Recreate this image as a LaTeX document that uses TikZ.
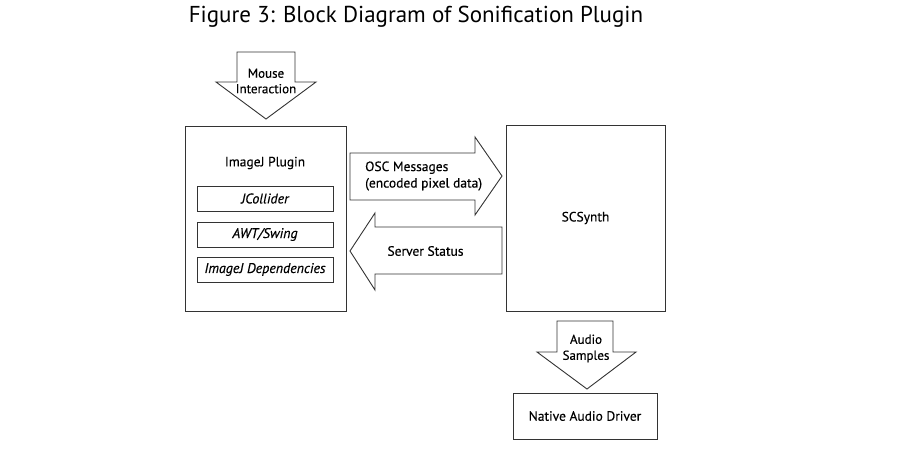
\documentclass[tikz,border=0pt]{standalone}
\usepackage{fontspec}
\setmainfont{PT Sans}
\newfontfamily\lblfont{PT Sans}[FakeBold=0.35, ItalicFeatures={FakeBold=0.35}]
\begin{document}
\begin{tikzpicture}[x=1pt,y=-1pt,
  shape line/.style={draw=black!80, line width=0.9pt, line join=miter},
  lbl/.style={inner sep=0pt, font=\lblfont\fontsize{13.5}{15.5}\selectfont, text=black},
  boxlbl/.style={inner sep=0pt, text=black, font=\lblfont\fontsize{14}{15.5}\selectfont\itshape}]
\useasboundingbox (0,0) rectangle (900,450);
\node[inner sep=0pt, font=\fontsize{23}{28}\selectfont] (title) at (416,17) {Figure 3: Block Diagram of Sonification Plugin};
% blocks
\draw[shape line] (185,126) rectangle (346,311);
\node[lbl] (plugin) at (265,163) {ImageJ Plugin};
\draw[shape line] (197,186) rectangle (333,211);
\node[boxlbl] (jc) at (265,198.5) {JCollider};
\draw[shape line] (197,222) rectangle (333,247);
\node[boxlbl] (awt) at (265,234.5) {AWT/Swing};
\draw[shape line] (197,257) rectangle (333,282);
\node[boxlbl] (dep) at (265,269.5) {ImageJ Dependencies};
\draw[shape line] (506,125) rectangle (665,311);
\node[lbl] (scs) at (585.5,218) {SCSynth};
\draw[shape line] (513,393) rectangle (657,439);
\node[lbl] (nad) at (585,416) {Native Audio Driver};
% mouse arrow
\draw[shape line] (237,52) -- (295,52) -- (295,82) -- (316,82) -- (266,119) -- (216,82) -- (237,82) -- cycle;
\node[lbl, font=\lblfont\fontsize{13}{15.5}\selectfont, align=center] (mouse) at (266,81) {Mouse\\Interaction};
% OSC arrow
\draw[shape line] (350,153) -- (475,153) -- (475,137) -- (502,176) -- (475,215) -- (475,200) -- (350,200) -- cycle;
\node[lbl, font=\lblfont\fontsize{13.5}{16.5}\selectfont, align=left, anchor=west] (osc) at (365,176) {OSC Messages\\(encoded pixel data)};
% Server status arrow
\draw[shape line] (502,227) -- (375,227) -- (375,213) -- (350,251) -- (375,290) -- (375,274) -- (502,274) -- cycle;
\node[lbl] (srv) at (425.5,251) {Server Status};
% audio arrow
\draw[shape line] (557,321) -- (613,321) -- (613,352) -- (636,352) -- (587,389) -- (537,352) -- (557,352) -- cycle;
\node[lbl, font=\lblfont\fontsize{13}{16}\selectfont, align=center] (audio) at (586,348.5) {Audio\\Samples};
\end{tikzpicture}
\end{document}
